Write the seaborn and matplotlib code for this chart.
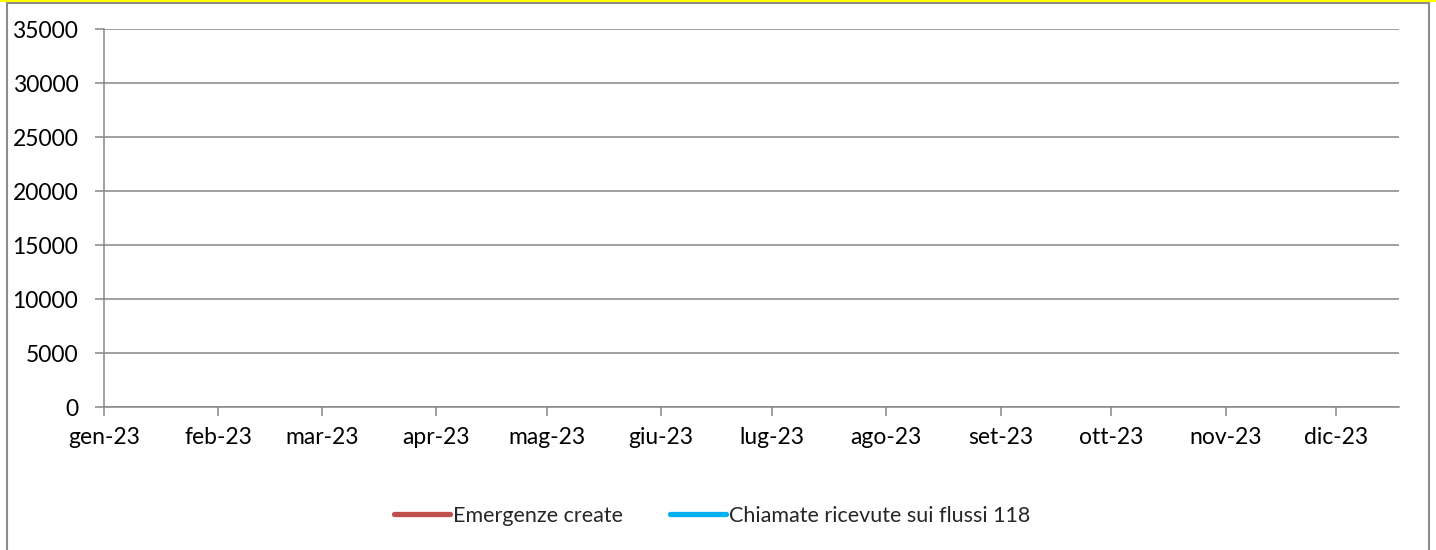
import numpy as np
import pandas as pd
import matplotlib
matplotlib.use("Agg")
import matplotlib.pyplot as plt
from matplotlib.patches import Rectangle
from matplotlib.lines import Line2D
import seaborn as sns

# --- data (the reference chart shows the two series with no values) ---
mesi = pd.to_datetime(["2023-01-01", "2023-02-01", "2023-03-01", "2023-04-01",
                       "2023-05-01", "2023-06-01", "2023-07-01", "2023-08-01",
                       "2023-09-01", "2023-10-01", "2023-11-01", "2023-12-01"])
etichette_mesi = ["gen-23", "feb-23", "mar-23", "apr-23", "mag-23", "giu-23",
                  "lug-23", "ago-23", "set-23", "ott-23", "nov-23", "dic-23"]
emergenze_create = [np.nan] * 12
chiamate_118 = [np.nan] * 12
y_ticks = [0, 5000, 10000, 15000, 20000, 25000, 30000, 35000]

sns.set_theme(style="white")
plt.rcParams["font.family"] = ["Lato", "DejaVu Sans"]

W, H = 1436, 550
fig = plt.figure(figsize=(W / 100, H / 100), dpi=100)
ax = fig.add_axes([104 / W, 1 - 407 / H, (1399 - 104) / W, (407 - 29) / H])

grey = "#868686"
fs = 16.5

df = pd.DataFrame({"mese": list(mesi) * 2,
                   "valore": emergenze_create + chiamate_118,
                   "serie": ["Emergenze create"] * 12 + ["Chiamate ricevute sui flussi 118"] * 12})
colori = {"Emergenze create": "#C0504D", "Chiamate ricevute sui flussi 118": "#00B0F0"}
for nome, sub in df.groupby("serie", sort=False):
    ax.plot(sub["mese"], sub["valore"], color=colori[nome], lw=3.8,
            solid_capstyle="round", label=nome)

ax.set_xlim(mesi[0], mesi[-1] + pd.Timedelta(days=17))
ax.set_ylim(0, 35000)
ax.set_yticks(y_ticks)
ax.set_yticklabels([str(v) for v in y_ticks])
ax.set_xticks(mesi)
ax.set_xticklabels(etichette_mesi)

ax.yaxis.grid(True, color=grey, lw=1.1)
ax.xaxis.grid(False)
for s in ["top", "right"]:
    ax.spines[s].set_visible(False)
for s in ["left", "bottom"]:
    ax.spines[s].set_color(grey)
    ax.spines[s].set_linewidth(1.1)

ax.tick_params(axis="both", direction="out", length=6.5, width=1.1,
               color=grey, labelsize=fs, labelcolor="black")
ax.tick_params(axis="y", pad=12, left=True)
ax.tick_params(axis="x", pad=8, bottom=True)

handles = [Line2D([0], [0], color=colori[k], lw=3.8, solid_capstyle="round")
           for k in colori]
fig.legend(handles, list(colori.keys()), loc="center",
           bbox_to_anchor=(712 / W, 1 - 516 / H), ncol=2, frameon=False,
           fontsize=15.5, handlelength=2.6, handletextpad=0.13, columnspacing=2.2)

# outer chart border and the yellow edge at the top
fig.patches.append(Rectangle((7 / W, -0.1), (1429 - 7) / W, 1.1 - 3 / H,
                             transform=fig.transFigure, fill=False,
                             edgecolor="#8c8c8c", lw=1.5))
fig.lines.append(Line2D([0, 1], [1 - 0.8 / H, 1 - 0.8 / H],
                        transform=fig.transFigure, color="#ffff00", lw=1.5))

fig.savefig("out.png", dpi=100)
